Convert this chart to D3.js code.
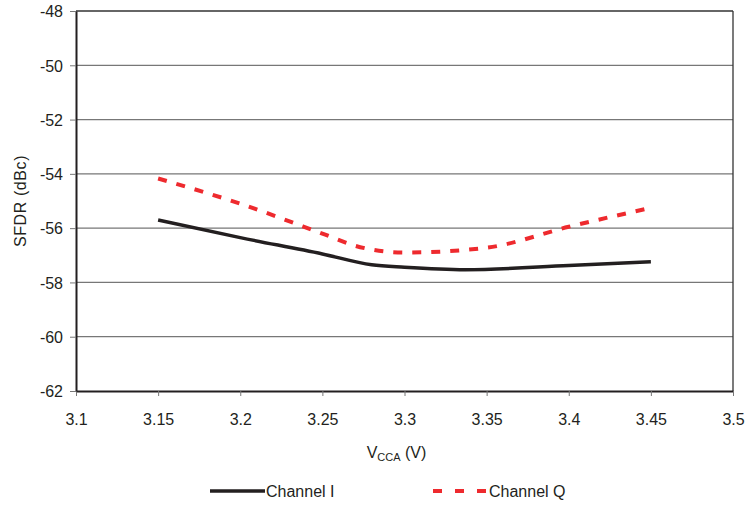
<!DOCTYPE html>
<html>
<head>
<meta charset="utf-8">
<script src="https://cdn.jsdelivr.net/npm/d3@7"></script>
<style>
  body { margin: 0; background: #fff; }
  text { font-family: "Liberation Sans", Arial, sans-serif; fill: #231f20; }
</style>
</head>
<body>
<svg id="chart"></svg>
<script>
// data
const xTicks = [3.1, 3.15, 3.2, 3.25, 3.3, 3.35, 3.4, 3.45, 3.5]
const yTicks = [-48, -50, -52, -54, -56, -58, -60, -62]

const chanIx = [3.15, 3.2, 3.25, 3.28, 3.3, 3.337, 3.4, 3.45]
const chanIy = [-55.7, -56.35, -56.95, -57.35, -57.44, -57.53, -57.38, -57.24]

const chanQx = [3.15, 3.2, 3.25, 3.27, 3.3, 3.35, 3.4, 3.45]
const chanQy = [-54.17, -55.1, -56.2, -56.65, -56.9, -56.72, -55.95, -55.25]

const seriesNames = ['Channel I', 'Channel Q']

const width = 748
const height = 505
const margin = { left: 76, right: 15, top: 11, bottom: 114 }

const svg = d3.select('svg#chart').attr('width', width).attr('height', height)

const visWidth = width - margin.left - margin.right
const visHeight = height - margin.top - margin.bottom

const g = svg.append('g').attr('transform', 'translate(' + margin.left + ',' + margin.top + ')')

const xScale = d3.scaleLinear().domain([3.1, 3.5]).range([0, visWidth])
const yScale = d3.scaleLinear().domain([-62, -48]).range([visHeight, 0])

// gridlines
g.append('g').selectAll('line').data(yTicks.filter(d => d != -62))
  .enter().append('line')
  .attr('x1', 0).attr('x2', visWidth)
  .attr('y1', d => yScale(d)).attr('y2', d => yScale(d))
  .attr('stroke', d => d == -48 ? '#333' : '#777')
  .attr('stroke-width', 1.3)

// right border
g.append('line')
  .attr('x1', visWidth).attr('x2', visWidth)
  .attr('y1', 0).attr('y2', visHeight)
  .attr('stroke', '#333').attr('stroke-width', 1.3)

const axisX = g.append('g')
  .attr('transform', 'translate(0,' + visHeight + ')')
  .call(d3.axisBottom(xScale).tickValues(xTicks).tickFormat(d => String(d)).tickSize(5).tickSizeOuter(0))
axisX.select('.domain').attr('stroke', '#231f20').attr('stroke-width', 2)
axisX.selectAll('.tick line').attr('stroke', '#777')
axisX.selectAll('text').attr('font-size', 16).attr('y', 34).attr('dy', 0)

const axisY = g.append('g')
  .call(d3.axisLeft(yScale).tickValues(yTicks).tickFormat(d => String(d)).tickSize(6).tickSizeOuter(0))
axisY.select('.domain').attr('stroke', '#231f20').attr('stroke-width', 2)
axisY.selectAll('.tick line').attr('stroke', '#777')
axisY.selectAll('text').attr('font-size', 16).attr('x', -13).attr('dy', '0.36em')

// axis titles
svg.append('text')
  .attr('transform', 'translate(26,' + (margin.top + visHeight / 2) + ') rotate(-90)')
  .attr('text-anchor', 'middle')
  .attr('font-size', 16)
  .attr('letter-spacing', 0.6)
  .text('SFDR (dBc)')

const xt = svg.append('text')
  .attr('x', margin.left + visWidth / 2 - 8).attr('y', 458)
  .attr('text-anchor', 'middle')
  .attr('font-size', 16)
xt.append('tspan').text('V')
xt.append('tspan').attr('font-size', 11).attr('dy', 3).text('CCA')
xt.append('tspan').attr('dy', -3).text(' (V)')

// lines
const line = d3.line().curve(d3.curveMonotoneX)
  .x(d => xScale(d[0])).y(d => yScale(d[1]))

g.append('path')
  .datum(chanIx.map((x, i) => [x, chanIy[i]]))
  .attr('d', line)
  .attr('fill', 'none').attr('stroke', '#231f20').attr('stroke-width', 3.5)

g.append('path')
  .datum(chanQx.map((x, i) => [x, chanQy[i]]))
  .attr('d', line)
  .attr('fill', 'none').attr('stroke', '#ee2a2e').attr('stroke-width', 4)
  .attr('stroke-dasharray', '9,10')

// legend
const legend = svg.append('g')
const legendPos = [210, 433]
seriesNames.forEach((name, i) => {
  const lx = legendPos[i]
  legend.append('line')
    .attr('x1', lx).attr('x2', lx + 55)
    .attr('y1', 491).attr('y2', 491)
    .attr('stroke', i == 0 ? '#231f20' : '#ee2a2e')
    .attr('stroke-width', i == 0 ? 3.5 : 4)
    .attr('stroke-dasharray', i == 0 ? null : '9,13')
  legend.append('text')
    .attr('x', lx + 56).attr('y', 497)
    .attr('font-size', 16)
    .text(name)
})
</script>
</body>
</html>
